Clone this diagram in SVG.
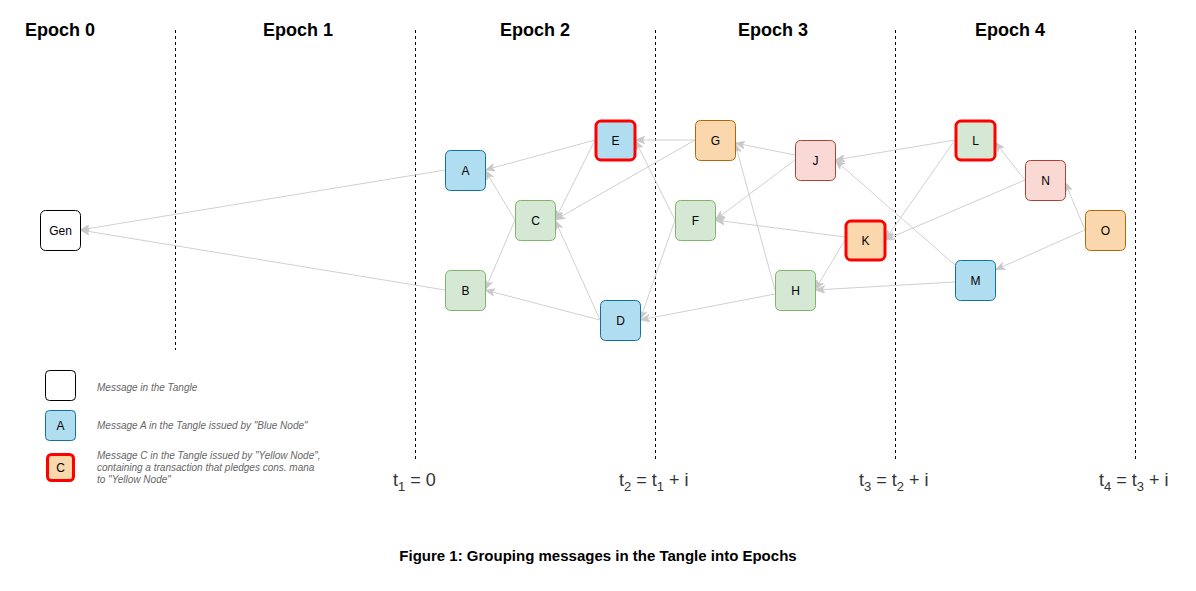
<svg xmlns="http://www.w3.org/2000/svg" width="1196" height="591" viewBox="0 0 1196 591">
<style>
.w{fill:#fff;stroke:#000;stroke-width:1}
.b{fill:#b1ddf0;stroke:#10739e;stroke-width:1}
.g{fill:#d5e8d4;stroke:#82b366;stroke-width:1}
.o{fill:#fad7ac;stroke:#b46504;stroke-width:1}
.p{fill:#fad9d5;stroke:#ae4132;stroke-width:1}
rect.r{stroke:#ff0000;stroke-width:3}
.lbl{font-family:"Liberation Sans",Arial,sans-serif;font-size:12px;text-anchor:middle;fill:#000}
.ep{font-family:"Liberation Sans",Arial,sans-serif;font-size:18px;font-weight:bold;text-anchor:middle}
.t{font-family:"Liberation Sans",Arial,sans-serif;font-size:18px;fill:#333}
.leg{font-family:"Liberation Sans",Arial,sans-serif;font-size:10px;font-style:italic;fill:#666}
.dl{stroke:#000;stroke-width:1;stroke-dasharray:3 3}
#edges line{stroke:#d0d0d0;stroke-width:1;marker-end:url(#ar)}
</style>
<defs>
<marker id="ar" markerWidth="10" markerHeight="8" refX="10" refY="4" orient="auto" markerUnits="userSpaceOnUse" viewBox="0 0 10 8">
<path d="M0,0 L10,4 L0,8 L2.5,4 Z" fill="#c8c8c8" stroke="#c8c8c8" stroke-width="0.5"/>
</marker>
</defs>
<rect width="1196" height="591" fill="#fff"/>
<g id="epochs">
<text class="ep" x="60" y="36">Epoch 0</text>
<text class="ep" x="298" y="36">Epoch 1</text>
<text class="ep" x="535" y="36">Epoch 2</text>
<text class="ep" x="773" y="36">Epoch 3</text>
<text class="ep" x="1010" y="36">Epoch 4</text>
</g>
<g id="dividers">
<line class="dl" x1="175.5" y1="30" x2="175.5" y2="350"/>
<line class="dl" x1="415.5" y1="30" x2="415.5" y2="460"/>
<line class="dl" x1="655.5" y1="30" x2="655.5" y2="460"/>
<line class="dl" x1="895.5" y1="30" x2="895.5" y2="460"/>
<line class="dl" x1="1135.5" y1="30" x2="1135.5" y2="460"/>
</g>
<g id="edges">
<line x1="445" y1="170" x2="80" y2="230"/>
<line x1="445" y1="290" x2="80" y2="230"/>
<line x1="515" y1="220" x2="485" y2="170"/>
<line x1="515" y1="220" x2="485" y2="290"/>
<line x1="595" y1="140" x2="485" y2="170"/>
<line x1="595" y1="140" x2="555" y2="220"/>
<line x1="600" y1="320" x2="555" y2="220"/>
<line x1="600" y1="320" x2="485" y2="290"/>
<line x1="695" y1="140" x2="635" y2="140"/>
<line x1="695" y1="140" x2="555" y2="220"/>
<line x1="675" y1="220" x2="635" y2="140"/>
<line x1="675" y1="220" x2="640" y2="320"/>
<line x1="795" y1="155" x2="735" y2="143"/>
<line x1="795" y1="160" x2="715" y2="220"/>
<line x1="775" y1="290" x2="735" y2="143"/>
<line x1="775" y1="294" x2="640" y2="320"/>
<line x1="845" y1="237" x2="715" y2="220"/>
<line x1="845" y1="240" x2="815" y2="290"/>
<line x1="955" y1="140" x2="835" y2="160"/>
<line x1="955" y1="140" x2="885" y2="240"/>
<line x1="955" y1="265" x2="835" y2="160"/>
<line x1="955" y1="282" x2="815" y2="290"/>
<line x1="1025" y1="180" x2="995" y2="142"/>
<line x1="1025" y1="180" x2="885" y2="240"/>
<line x1="1085" y1="230" x2="1065" y2="182"/>
<line x1="1085" y1="230" x2="995" y2="270"/>
</g>
<g id="Gen"><rect class="w" x="40.5" y="210.5" width="40" height="40" rx="5"/><text class="lbl" x="60.5" y="235">Gen</text></g>
<g id="A"><rect class="b" x="445.5" y="150.5" width="40" height="40" rx="5"/><text class="lbl" x="465.5" y="175">A</text></g>
<g id="B"><rect class="g" x="445.5" y="270.5" width="40" height="40" rx="5"/><text class="lbl" x="465.5" y="295">B</text></g>
<g id="C"><rect class="g" x="515.5" y="200.5" width="40" height="40" rx="5"/><text class="lbl" x="535.5" y="225">C</text></g>
<g id="D"><rect class="b" x="600.5" y="300.5" width="40" height="40" rx="5"/><text class="lbl" x="620.5" y="325">D</text></g>
<g id="E"><rect class="b r" x="596" y="121" width="39" height="39" rx="5"/><text class="lbl" x="615.5" y="145">E</text></g>
<g id="G"><rect class="o" x="695.5" y="120.5" width="40" height="40" rx="5"/><text class="lbl" x="715.5" y="145">G</text></g>
<g id="F"><rect class="g" x="675.5" y="200.5" width="40" height="40" rx="5"/><text class="lbl" x="695.5" y="225">F</text></g>
<g id="J"><rect class="p" x="795.5" y="140.5" width="40" height="40" rx="5"/><text class="lbl" x="815.5" y="165">J</text></g>
<g id="K"><rect class="o r" x="846" y="221" width="39" height="39" rx="5"/><text class="lbl" x="865.5" y="245">K</text></g>
<g id="H"><rect class="g" x="775.5" y="270.5" width="40" height="40" rx="5"/><text class="lbl" x="795.5" y="295">H</text></g>
<g id="L"><rect class="g r" x="956" y="121" width="39" height="39" rx="5"/><text class="lbl" x="975.5" y="145">L</text></g>
<g id="N"><rect class="p" x="1025.5" y="160.5" width="40" height="40" rx="5"/><text class="lbl" x="1045.5" y="185">N</text></g>
<g id="O"><rect class="o" x="1085.5" y="210.5" width="40" height="40" rx="5"/><text class="lbl" x="1105.5" y="235">O</text></g>
<g id="M"><rect class="b" x="955.5" y="260.5" width="40" height="40" rx="5"/><text class="lbl" x="975.5" y="285">M</text></g>
<g id="legend">
<g id="leg1"><rect class="w" x="45.5" y="370.5" width="30" height="30" rx="4"/></g>
<text class="leg" x="97" y="391">Message in the Tangle</text>
<g id="leg2"><rect class="b" x="45.5" y="410.5" width="30" height="30" rx="4"/><text class="lbl" x="60.5" y="430">A</text></g>
<text class="leg" x="97" y="429">Message A in the Tangle issued by "Blue Node"</text>
<g id="leg3"><rect class="o r" x="47.5" y="454.5" width="26" height="26" rx="4"/><text class="lbl" x="60.5" y="472">C</text></g>
<text class="leg" x="97" y="459">Message C in the Tangle issued by "Yellow Node",</text>
<text class="leg" x="97" y="471">containing a transaction that pledges cons. mana</text>
<text class="leg" x="97" y="483">to "Yellow Node"</text>
</g>
<g id="times">
<text class="t" x="393" y="486">t<tspan font-size="13" dy="5">1</tspan><tspan dy="-5"> = 0</tspan></text>
<text class="t" x="619" y="486">t<tspan font-size="13" dy="5">2</tspan><tspan dy="-5"> = t</tspan><tspan font-size="13" dy="5">1</tspan><tspan dy="-5"> + i</tspan></text>
<text class="t" x="859" y="486">t<tspan font-size="13" dy="5">3</tspan><tspan dy="-5"> = t</tspan><tspan font-size="13" dy="5">2</tspan><tspan dy="-5"> + i</tspan></text>
<text class="t" x="1099" y="486">t<tspan font-size="13" dy="5">4</tspan><tspan dy="-5"> = t</tspan><tspan font-size="13" dy="5">3</tspan><tspan dy="-5"> + i</tspan></text>
</g>
<text id="caption" x="598" y="561" font-family="'Liberation Sans',Arial,sans-serif" font-size="15" font-weight="bold" text-anchor="middle">Figure 1: Grouping messages in the Tangle into Epochs</text>
</svg>
